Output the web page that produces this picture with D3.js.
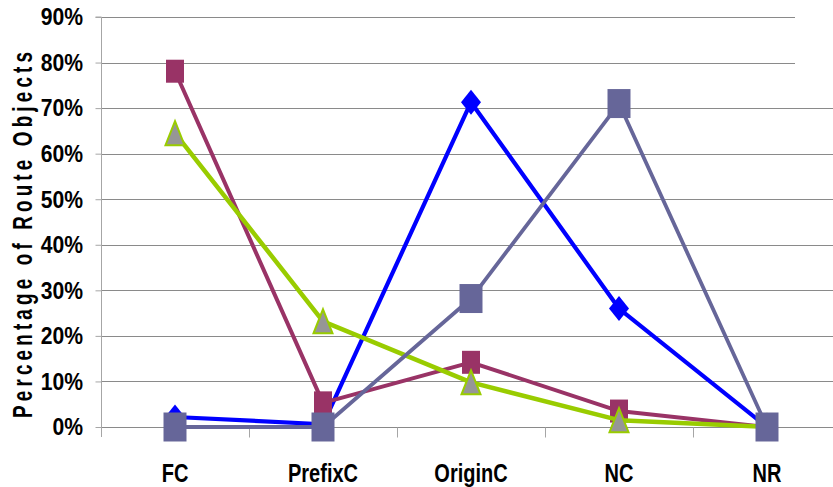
<!DOCTYPE html>
<html>
<head>
<meta charset="utf-8">
<script src="https://cdn.jsdelivr.net/npm/d3@7"></script>
<style>
  html, body { margin: 0; padding: 0; background: #fff; }
  svg { display: block; }
  text { font-family: "Liberation Sans", Arial, sans-serif; font-weight: bold; fill: #000; }
</style>
</head>
<body>
<svg id="chart" width="833" height="487"></svg>
<script>
// Share of route objects per consistency class, four series
const categories = ["FC", "PrefixC", "OriginC", "NC", "NR"];
const yTicks = [0, 0.1, 0.2, 0.3, 0.4, 0.5, 0.6, 0.7, 0.8, 0.9];

const seriesBlue   = [0.022, 0.006, 0.713, 0.260, 0.0];
const seriesMaroon = [0.781, 0.053, 0.142, 0.035, 0.0];
const seriesGreen  = [0.645, 0.232, 0.098, 0.015, 0.0];
const seriesSlate  = [0.0, 0.0, 0.282, 0.710, 0.0];

const series = [
  { values: seriesBlue,   stroke: "#0000ff", width: 4.2, marker: "diamond",  fill: "#0000ff", w: 20, h: 25 },
  { values: seriesMaroon, stroke: "#993366", width: 4,   marker: "square",   fill: "#993366", w: 18, h: 23 },
  { values: seriesGreen,  stroke: "#99cc00", width: 4.5, marker: "triangle", fill: "#969696", w: 19, h: 24 },
  { values: seriesSlate,  stroke: "#666699", width: 3.8, marker: "square",   fill: "#666699", w: 23, h: 29 }
];

const svg = d3.select("#chart");
const plot = { left: 101, top: 17, right: 841, bottom: 427 };

const x = d3.scaleBand().domain(categories).range([plot.left, plot.right]);
const y = d3.scaleLinear().domain([0, 0.9]).range([plot.bottom, plot.top]);
const cx = c => x(c) + x.bandwidth() / 2;

// horizontal gridlines
svg.append("g")
  .selectAll("line")
  .data(yTicks)
  .join("line")
  .attr("x1", plot.left).attr("x2", plot.right)
  .attr("y1", d => Math.round(y(d)) + 0.5).attr("y2", d => Math.round(y(d)) + 0.5)
  .attr("stroke", "#8a8a8a").attr("stroke-width", 1);

// legend panel background at the top right
svg.append("rect")
  .attr("x", 795).attr("y", 0).attr("width", 60).attr("height", 88)
  .attr("fill", "#fff");

// value axis
const yAxis = svg.append("g")
  .attr("transform", `translate(${plot.left + 0.5},0)`)
  .call(d3.axisLeft(y).tickValues(yTicks).tickFormat(d3.format(".0%")).tickSize(6));
yAxis.select(".domain").attr("stroke", "#a6a6a6").attr("d", `M-6,${plot.top}H0V${plot.bottom + 10}`);
yAxis.selectAll(".tick line").attr("stroke", "#a6a6a6");
yAxis.selectAll(".tick text").remove();

const fmt = d3.format(".0%");
svg.append("g")
  .selectAll("text")
  .data(yTicks)
  .join("text")
  .attr("transform", d => `translate(83,${y(d)}) scale(0.92,1)`)
  .attr("dy", "0.36em")
  .attr("text-anchor", "end")
  .attr("font-size", 23)
  .text(d => fmt(d));

// category axis
const xAxis = svg.append("g")
  .attr("transform", `translate(0,${plot.bottom + 0.5})`)
  .call(d3.axisBottom(x).tickSize(0).tickPadding(0));
xAxis.select(".domain").remove();
xAxis.selectAll(".tick text").remove();
const boundaries = categories.slice(1).map(c => x(c));
xAxis.selectAll("line.sep")
  .data(boundaries)
  .join("line")
  .attr("class", "sep")
  .attr("x1", d => Math.round(d) + 0.5).attr("x2", d => Math.round(d) + 0.5)
  .attr("y1", 0).attr("y2", 10)
  .attr("stroke", "#a6a6a6");

svg.append("g")
  .selectAll("text")
  .data(categories)
  .join("text")
  .attr("transform", d => `translate(${cx(d)},482) scale(0.8,1)`)
  .attr("text-anchor", "middle")
  .attr("font-size", 25)
  .text(d => d);

// axis title: narrow glyphs, spread letters
svg.append("text")
  .attr("transform", "translate(32,235) rotate(-90) scale(0.7,1)")
  .attr("text-anchor", "middle")
  .attr("font-size", 27)
  .attr("textLength", 366 / 0.7)
  .attr("lengthAdjust", "spacing")
  .text("Percentage of Route Objects");

// series lines and markers
const line = d3.line().x((d, i) => cx(categories[i])).y(d => y(d));

function markerPath(type, w, h) {
  const a = w / 2, b = h / 2;
  if (type === "diamond") return `M0,${-b}L${a},0L0,${b}L${-a},0Z`;
  if (type === "triangle") return `M0,${-b}L${a},${b}L${-a},${b}Z`;
  return `M${-a},${-b}H${a}V${b}H${-a}Z`;
}

series.forEach(s => {
  const g = svg.append("g");
  g.append("path")
    .attr("d", line(s.values))
    .attr("fill", "none")
    .attr("stroke", s.stroke)
    .attr("stroke-width", s.width)
    .attr("stroke-linejoin", "round");
  g.selectAll("path.mk")
    .data(s.values)
    .join("path")
    .attr("class", "mk")
    .attr("transform", (d, i) => `translate(${cx(categories[i])},${y(d)})`)
    .attr("d", markerPath(s.marker, s.w, s.h))
    .attr("fill", s.fill)
    .attr("stroke", s.marker === "triangle" ? s.stroke : "none")
    .attr("stroke-width", 2);
});
</script>
</body>
</html>
